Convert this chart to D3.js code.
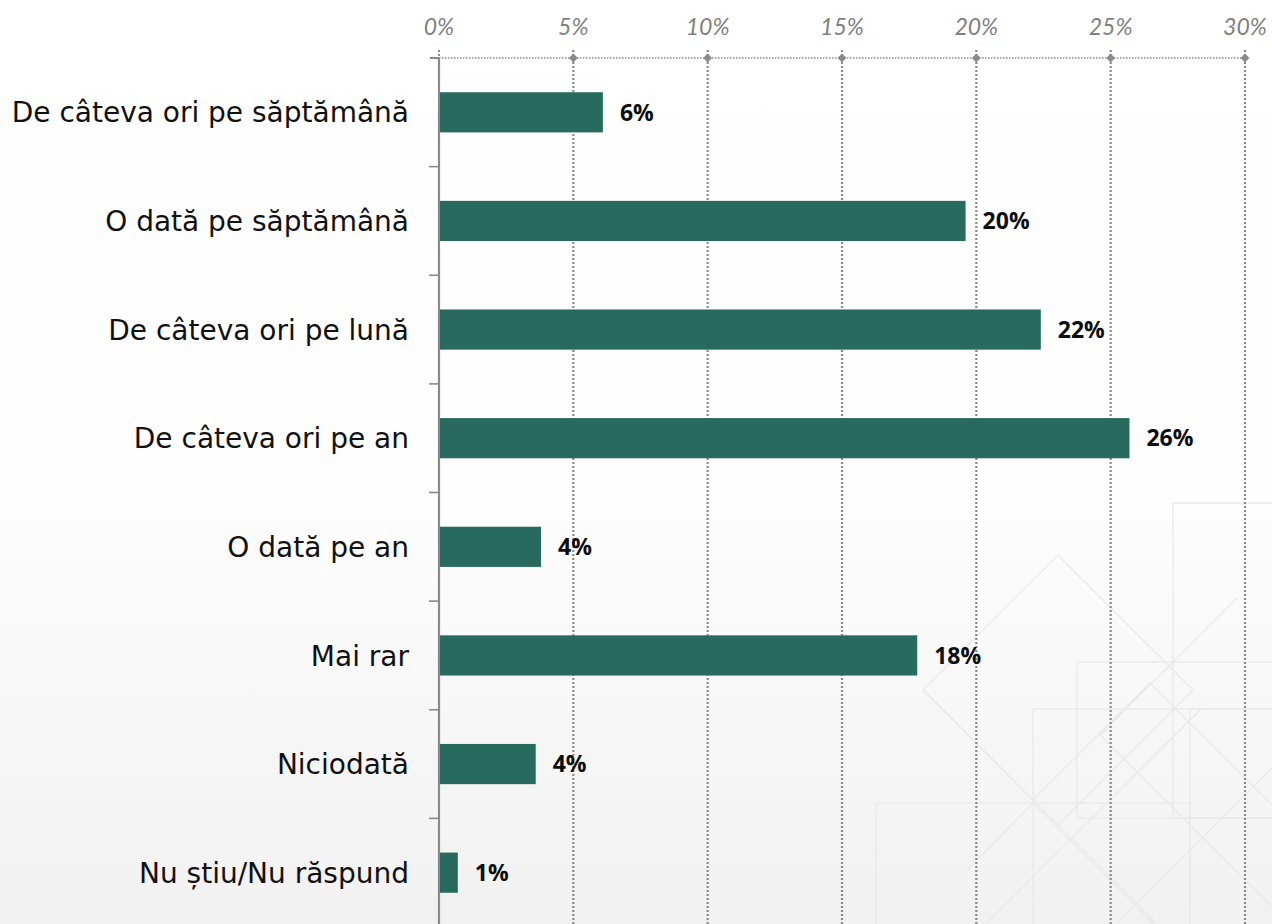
<!DOCTYPE html>
<html>
<head>
<meta charset="utf-8">
<script src="https://cdn.jsdelivr.net/npm/d3@7"></script>
<style>
  html, body { margin: 0; padding: 0; }
  body { width: 1272px; height: 924px; overflow: hidden; }
</style>
</head>
<body>
<svg id="chart" width="1272" height="924"></svg>
<script>
const categories = [
  "De câteva ori pe săptămână",
  "O dată pe săptămână",
  "De câteva ori pe lună",
  "De câteva ori pe an",
  "O dată pe an",
  "Mai rar",
  "Niciodată",
  "Nu știu/Nu răspund"
];
const values = [6.1, 19.6, 22.4, 25.7, 3.8, 17.8, 3.6, 0.7];
const valueLabels = ["6%", "20%", "22%", "26%", "4%", "18%", "4%", "1%"];
const tickValues = [0, 5, 10, 15, 20, 25, 30];
const tickLabels = ["0%", "5%", "10%", "15%", "20%", "25%", "30%"];

const svg = d3.select("#chart");
const W = 1272, H = 924;

// background gradient
const defs = svg.append("defs");
const grad = defs.append("linearGradient").attr("id", "bg").attr("x1", 0).attr("y1", 0).attr("x2", 0).attr("y2", 1);
grad.append("stop").attr("offset", "0").attr("stop-color", "#ffffff");
grad.append("stop").attr("offset", "0.55").attr("stop-color", "#fdfdfd");
grad.append("stop").attr("offset", "1").attr("stop-color", "#f1f1f1");
svg.append("rect").attr("width", W).attr("height", H).attr("fill", "url(#bg)");

// decorative faint geometry (bottom right)
const deco = svg.append("g").attr("fill", "none").attr("stroke", "#e8e8e8").attr("stroke-width", 1.2);
deco.append("rect").attr("x", 1173).attr("y", 503).attr("width", 120).attr("height", 315);
deco.append("rect").attr("x", 1077).attr("y", 662).attr("width", 200).attr("height", 156);
deco.append("rect").attr("x", 1033).attr("y", 709).attr("width", 250).attr("height", 240);
deco.append("rect").attr("x", 876).attr("y", 803).attr("width", 314).attr("height", 150);
deco.append("rect").attr("x", 1190).attr("y", 709).attr("width", 100).attr("height", 240);
deco.append("path").attr("d", "M1058,555 L1193,690 L1058,825 L923,690 Z");
deco.append("path").attr("d", "M923,690 L1160,927");
deco.append("path").attr("d", "M1237,598 L1100,735 L1300,935");
deco.append("path").attr("d", "M1033,803 L1190,960");
deco.append("path").attr("d", "M1200,710 L967,943");
deco.append("path").attr("d", "M1280,760 L1110,930");
deco.append("path").attr("d", "M1033,800 L1150,683 L1280,813");
deco.append("path").attr("d", "M967,870 L1033,803");

const margin = { left: 439, right: 27, top: 58 };
const x = d3.scaleLinear().domain([0, 30]).range([margin.left, W - margin.right]);
const y = d3.scaleBand().domain(categories).range([margin.top, 927]).paddingInner(0.63).paddingOuter(0.315);
const yBounds = d3.scaleBand().domain(categories).range([margin.top, 927]);

const grey = "#8a8a8a";

// vertical dotted gridlines
svg.append("g").selectAll("line").data(tickValues.filter(d => d > 0)).join("line")
  .attr("x1", d => x(d)).attr("x2", d => x(d))
  .attr("y1", margin.top - 8).attr("y2", H)
  .attr("stroke", grey).attr("stroke-width", 2.2).attr("stroke-dasharray", "2,2");

// top axis dotted line
svg.append("line").attr("x1", x(0)).attr("x2", x(30)).attr("y1", margin.top).attr("y2", margin.top)
  .attr("stroke", grey).attr("stroke-width", 1.6).attr("stroke-dasharray", "1.5,1.5");
svg.append("line").attr("x1", x(0) - 9).attr("x2", x(0)).attr("y1", margin.top).attr("y2", margin.top)
  .attr("stroke", grey).attr("stroke-width", 2);
svg.append("line").attr("x1", x(0)).attr("x2", x(0)).attr("y1", margin.top - 8).attr("y2", margin.top)
  .attr("stroke", grey).attr("stroke-width", 2).attr("stroke-dasharray", "2,2");

// diamond markers
svg.append("g").selectAll("path").data(tickValues.filter(d => d > 0)).join("path")
  .attr("d", d3.symbol().type(d3.symbolDiamond2).size(50))
  .attr("transform", d => `translate(${x(d)},${margin.top})`)
  .attr("fill", grey);

// top tick labels
svg.append("g").selectAll("text").data(tickValues).join("text")
  .attr("x", d => x(d)).attr("y", 35)
  .attr("text-anchor", "middle")
  .attr("font-family", "Lato, 'Open Sans', sans-serif")
  .attr("font-style", "italic")
  .attr("font-size", 23)
  .attr("fill", "#7f7f7f")
  .text((d, i) => tickLabels[i]);

// left vertical axis
svg.append("line").attr("x1", x(0)).attr("x2", x(0)).attr("y1", margin.top).attr("y2", H)
  .attr("stroke", grey).attr("stroke-width", 2.2);
svg.append("g").selectAll("line").data(categories.slice(1)).join("line")
  .attr("x1", x(0) - 10).attr("x2", x(0))
  .attr("y1", d => yBounds(d)).attr("y2", d => yBounds(d))
  .attr("stroke", grey).attr("stroke-width", 1.6);

// bars
svg.append("g").selectAll("rect").data(values).join("rect")
  .attr("x", x(0) + 1)
  .attr("y", (d, i) => y(categories[i]))
  .attr("width", d => x(d) - x(0) - 1)
  .attr("height", y.bandwidth())
  .attr("fill", "#286b5e");

// value labels
svg.append("g").selectAll("text").data(values).join("text")
  .attr("x", d => x(d) + 17)
  .attr("y", (d, i) => y(categories[i]) + y.bandwidth() / 2)
  .attr("dy", "0.36em")
  .attr("font-family", "'Open Sans', Lato, sans-serif")
  .attr("font-weight", "bold")
  .attr("font-size", 23)
  .attr("fill", "#0d0d0d")
  .text((d, i) => valueLabels[i]);

// category labels
svg.append("g").selectAll("text").data(categories).join("text")
  .attr("x", 409)
  .attr("y", d => y(d) + y.bandwidth() / 2)
  .attr("dy", "0.36em")
  .attr("text-anchor", "end")
  .attr("font-family", "'DejaVu Sans', sans-serif")
  .attr("font-size", 28)
  .attr("fill", "#111111")
  .text(d => d);
</script>
</body>
</html>
